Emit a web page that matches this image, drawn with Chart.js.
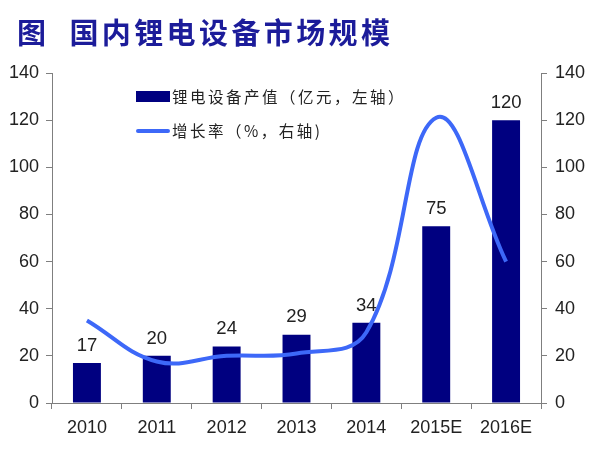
<!DOCTYPE html>
<html>
<head>
<meta charset="utf-8">
<script src="https://cdn.jsdelivr.net/npm/chart.js@4/dist/chart.umd.min.js"></script>
<style>
  html, body { margin: 0; padding: 0; background: #fff; }
  #wrap { position: relative; width: 594px; height: 449px; }
  #title {
    position: absolute; left: 17px; top: 10px;
    font-family: "Noto Sans CJK SC", sans-serif; font-weight: bold;
    font-size: 29px; color: #1c1c9a; letter-spacing: 3.4px; white-space: pre;
  }
  #title span { margin-right: 20px; }
</style>
</head>
<body>
<div id="wrap">
  <canvas id="chart" width="594" height="449"></canvas>
  <div id="title"><span>图</span>国内锂电设备市场规模</div>
</div>
<script>
const years = ['2010', '2011', '2012', '2013', '2014', '2015E', '2016E'];
const output = [17, 20, 24, 29, 34, 75, 120];        // 亿元, left axis
const growth = [35, 17.6, 20, 21, 30, 121, 60];      // %, right axis
const axisTicks = [0, 20, 40, 60, 80, 100, 120, 140];

const barColor = '#000080';
const lineColor = '#3d68f8';
const axisColor = '#7f7f7f';
const textColor = '#222222';
const tickFont = { family: '"Liberation Sans", Arial, sans-serif', size: 18 };

// labels above bars
const barLabels = {
    id: 'barLabels',
    afterDatasetsDraw(chart) {
        const c = chart.ctx;
        const meta = chart.getDatasetMeta(0);
        c.save();
        c.font = '18.5px "Liberation Sans", Arial, sans-serif';
        c.fillStyle = textColor;
        c.textAlign = 'center';
        c.textBaseline = 'bottom';
        meta.data.forEach((bar, i) => {
            c.fillText(output[i], bar.x, bar.y - 8);
        });
        c.restore();
    }
};

// legend in the upper left of the plot
const insideLegend = {
    id: 'insideLegend',
    afterDraw(chart) {
        const c = chart.ctx;
        const ds = chart.data.datasets;
        c.save();
        c.font = '15.5px "Noto Sans CJK SC", sans-serif';
        c.letterSpacing = '2.5px';
        c.textBaseline = 'middle';
        c.fillStyle = ds[0].backgroundColor;
        c.fillRect(136, 91, 34, 11);
        c.fillStyle = textColor;
        c.fillText(ds[0].label, 172, 97);
        c.strokeStyle = ds[1].borderColor;
        c.lineWidth = 4;
        c.lineCap = 'round';
        c.beginPath();
        c.moveTo(138, 131);
        c.lineTo(168, 131);
        c.stroke();
        c.fillText(ds[1].label, 172, 131);
        c.restore();
    }
};

function yAxis(position, fixedWidth) {
    return {
        type: 'linear',
        position: position,
        min: axisTicks[0],
        max: axisTicks[axisTicks.length - 1],
        afterBuildTicks: (scale) => { scale.ticks = axisTicks.map(v => ({ value: v })); },
        afterFit: (scale) => { scale.width = fixedWidth; },
        grid: { drawOnChartArea: false, drawTicks: true, tickLength: 6, color: axisColor },
        border: { display: true, color: axisColor, width: 1 },
        ticks: { font: tickFont, color: textColor, padding: position === 'left' ? 7 : 8 }
    };
}

new Chart(document.getElementById('chart').getContext('2d'), {
    data: {
        labels: years,
        datasets: [
            {
                type: 'bar',
                label: '锂电设备产值（亿元，左轴）',
                data: output,
                backgroundColor: barColor,
                borderWidth: 0,
                barPercentage: 0.4,
                categoryPercentage: 1,
                yAxisID: 'y',
                order: 2
            },
            {
                type: 'line',
                label: '增长率（%，右轴)',
                data: growth,
                borderColor: lineColor,
                backgroundColor: lineColor,
                borderWidth: 4,
                pointRadius: 0,
                tension: 0.4,
                yAxisID: 'y1',
                order: 1
            }
        ]
    },
    options: {
        responsive: false,
        animation: false,
        layout: { padding: { top: 73, left: 0, right: 0, bottom: 0 } },
        plugins: {
            legend: { display: false },
            tooltip: { enabled: false }
        },
        scales: {
            x: {
                offset: true,
                afterFit: (scale) => { scale.height = 46; },
                grid: { offset: true, drawOnChartArea: false, drawTicks: true, tickLength: 6, color: axisColor },
                border: { display: true, color: axisColor, width: 1 },
                ticks: { font: tickFont, color: textColor, padding: 8, maxRotation: 0 }
            },
            y: yAxis('left', 52),
            y1: yAxis('right', 53)
        }
    },
    plugins: [barLabels, insideLegend]
});
</script>
</body>
</html>
